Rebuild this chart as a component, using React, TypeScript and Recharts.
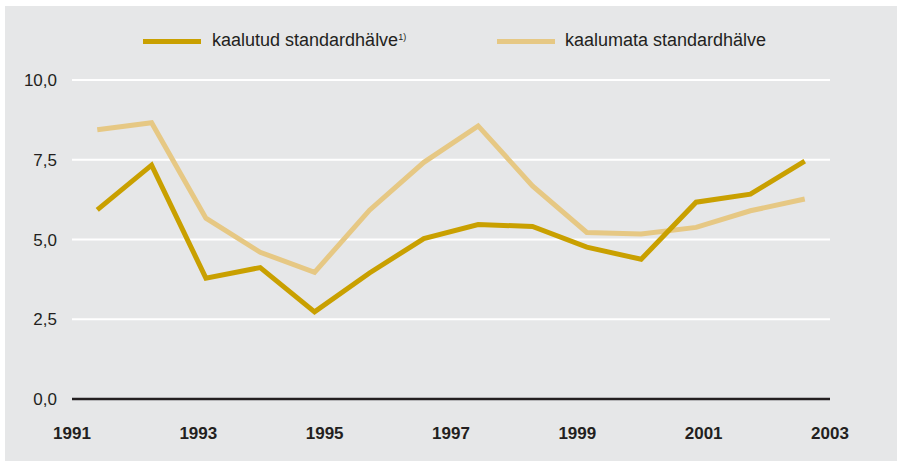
import React from "react";
import { LineChart, Line, XAxis, YAxis, CartesianGrid, ReferenceLine } from "recharts";

const periods = [1991.4, 1992.26, 1993.12, 1993.98, 1994.84, 1995.71, 1996.57, 1997.43, 1998.29, 1999.15, 2000.01, 2000.88, 2001.74, 2002.6];
const weighted = [5.93, 7.33, 3.79, 4.12, 2.73, 3.95, 5.03, 5.47, 5.41, 4.76, 4.38, 6.17, 6.42, 7.46];
const unweighted = [8.44, 8.66, 5.67, 4.6, 3.97, 5.92, 7.42, 8.56, 6.68, 5.22, 5.17, 5.38, 5.9, 6.27];
const xTicks = [1991, 1993, 1995, 1997, 1999, 2001, 2003];
const yTicks = [0, 2.5, 5, 7.5, 10];
const seriesNames = ["kaalutud standardhälve", "kaalumata standardhälve"];

const DARK = "#c9a000";
const LIGHT = "#e6c884";
const TEXT = "#231f20";
const FONT = "'Liberation Sans', Arial, sans-serif";

const data = periods.map((p, i) => ({ x: p, w: weighted[i], u: unweighted[i] }));
const fmt = (v: number) => v.toFixed(1).replace(".", ",");

export default function App() {
  return (
    <div style={{ position: "absolute", left: 0, top: 0, width: 899, height: 461, background: "#fff", fontFamily: FONT }}>
      <div style={{ position: "absolute", left: 5, top: 6, width: 892, height: 455, background: "#e6e7e8" }} />
      <div style={{ position: "absolute", left: 0, top: 0 }}>
        <LineChart width={899} height={461} data={data} margin={{ top: 80, right: 0, bottom: 0, left: 0 }}>
          <CartesianGrid vertical={false} stroke="#ffffff" strokeWidth={2} yAxisId="left" />
          <XAxis
            dataKey="x"
            type="number"
            domain={[1991, 2003]}
            ticks={xTicks}
            allowDataOverflow
            axisLine={false}
            tickLine={false}
            tickSize={0}
            tickMargin={28}
            height={62}
            interval={0}
            tick={{ fill: TEXT, fontSize: 17, fontWeight: "bold", fontFamily: FONT }}
          />
          <YAxis
            yAxisId="left"
            orientation="left"
            width={72}
            domain={[0, 10]}
            ticks={yTicks}
            tickFormatter={fmt}
            axisLine={false}
            tickLine={false}
            tickSize={0}
            tickMargin={15}
            tick={{ fill: TEXT, fontSize: 17, fontFamily: FONT }}
          />
          <YAxis
            yAxisId="right"
            orientation="right"
            width={69}
            domain={[0, 10]}
            ticks={yTicks}
            tickFormatter={fmt}
            axisLine={false}
            tickLine={false}
            tickSize={0}
            tickMargin={17}
            tick={{ fill: TEXT, fontSize: 17, fontFamily: FONT, textAnchor: "start" }}
          />
          <ReferenceLine yAxisId="left" y={0} stroke={TEXT} strokeWidth={2.5} />
          <Line yAxisId="left" type="linear" dataKey="u" stroke={LIGHT} strokeWidth={5} dot={false} isAnimationActive={false} strokeLinejoin="miter" />
          <Line yAxisId="left" type="linear" dataKey="w" stroke={DARK} strokeWidth={5} dot={false} isAnimationActive={false} strokeLinejoin="miter" />
        </LineChart>
      </div>
      <div style={{ position: "absolute", left: 143, top: 39, width: 58, height: 5, background: DARK }} />
      <div style={{ position: "absolute", left: 212, top: 30, fontSize: 18, color: TEXT, whiteSpace: "nowrap", lineHeight: "20px" }}>
        {seriesNames[0]}
        <sup style={{ fontSize: 9, verticalAlign: "top", position: "relative", top: -3 }}>1)</sup>
      </div>
      <div style={{ position: "absolute", left: 497, top: 39, width: 58, height: 5, background: LIGHT }} />
      <div style={{ position: "absolute", left: 565, top: 30, fontSize: 18, color: TEXT, whiteSpace: "nowrap", lineHeight: "20px" }}>
        {seriesNames[1]}
      </div>
    </div>
  );
}
